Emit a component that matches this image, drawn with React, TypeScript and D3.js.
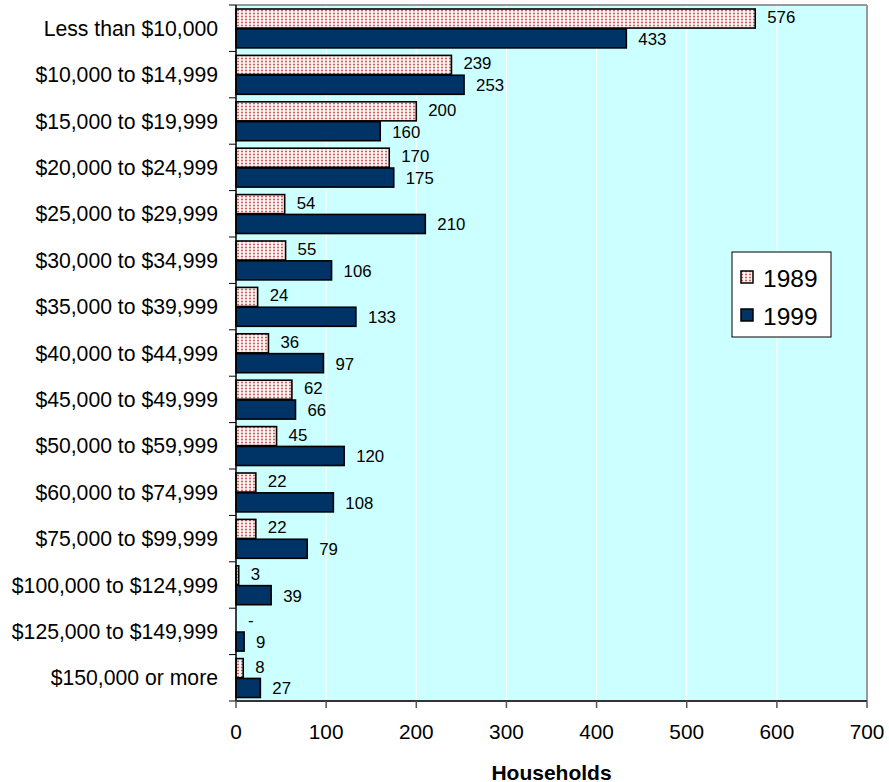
import React from "react";
import * as d3 from "d3";

const categories = [
  "Less than $10,000",
  "$10,000 to $14,999",
  "$15,000 to $19,999",
  "$20,000 to $24,999",
  "$25,000 to $29,999",
  "$30,000 to $34,999",
  "$35,000 to $39,999",
  "$40,000 to $44,999",
  "$45,000 to $49,999",
  "$50,000 to $59,999",
  "$60,000 to $74,999",
  "$75,000 to $99,999",
  "$100,000 to $124,999",
  "$125,000 to $149,999",
  "$150,000 or more",
];
const values1989 = [576, 239, 200, 170, 54, 55, 24, 36, 62, 45, 22, 22, 3, 0, 8];
const values1999 = [433, 253, 160, 175, 210, 106, 133, 97, 66, 120, 108, 79, 39, 9, 27];
const seriesNames = ["1989", "1999"];
const xTicks = [0, 100, 200, 300, 400, 500, 600, 700];
const xTitle = "Households";

const W = 889;
const H = 782;
const left = 236;
const right = 867;
const top = 5;
const bottom = 701;
const font = "Arial, 'Liberation Sans', sans-serif";
const blue = "#003366";
const bg = "#CCFFFF";

export default function App() {
  const x = d3.scaleLinear().domain([0, 700]).range([left, right]);
  const y = d3.scaleBand<string>().domain(categories).range([top, bottom]);
  const inner = d3
    .scaleBand<string>()
    .domain(seriesNames)
    .range([4, y.bandwidth() - 3.5])
    .paddingInner(0.04);
  const series = [values1989, values1999];
  const fills = ["url(#dots)", blue];

  return (
    <svg
      width={W}
      height={H}
      style={{ position: "absolute", left: 0, top: 0, display: "block" }}
      fontFamily={font}
    >
      <defs>
        <pattern id="dots" width={4} height={3} patternUnits="userSpaceOnUse">
          <rect width={4} height={3} fill="#fff4f4" />
          <rect x={1} y={0.5} width={2} height={2} fill="#e8a0a0" />
          <rect x={1.5} y={1} width={1} height={1} fill="#a82020" />
        </pattern>
      </defs>
      <rect x={left} y={top} width={right - left} height={bottom - top} fill={bg} />
      {xTicks.slice(1, -1).map((t) => (
        <line key={t} x1={x(t)} x2={x(t)} y1={top} y2={bottom} stroke="#ffffff" strokeWidth={1} />
      ))}
      {/* top & right border */}
      <line x1={left} x2={right} y1={top} y2={top} stroke="#999999" strokeWidth={2} />
      <line x1={right} x2={right} y1={top} y2={bottom} stroke="#999999" strokeWidth={2} />

      {categories.map((c, i) => (
        <g key={c}>
          {series.map((vals, s) => {
            const v = vals[i];
            const by = (y(c) as number) + (inner(seriesNames[s]) as number);
            const bh = inner.bandwidth();
            return (
              <g key={s}>
                {v > 0 && (
                  <rect
                    x={x(0)}
                    y={by}
                    width={x(v) - x(0)}
                    height={bh}
                    fill={fills[s]}
                    stroke="#000000"
                    strokeWidth={1.6}
                  />
                )}
                <text
                  x={x(v) + 12}
                  y={by + bh / 2 - (s === 0 ? 1 : -1)}
                  dominantBaseline="central"
                  fontSize={16.8}
                  fill="#000"
                >
                  {v === 0 ? "-" : v}
                </text>
              </g>
            );
          })}
          <text
            x={218}
            y={(y(c) as number) + y.bandwidth() / 2}
            textAnchor="end"
            dominantBaseline="central"
            fontSize={21.2}
            fill="#000"
          >
            {c}
          </text>
        </g>
      ))}

      {/* category ticks */}
      {categories.map((c, i) => (
        <line
          key={"t" + i}
          x1={229}
          x2={left}
          y1={(y(c) as number)}
          y2={(y(c) as number)}
          stroke="#000"
          strokeWidth={1}
        />
      ))}
      <line x1={229} x2={left} y1={bottom} y2={bottom} stroke="#000" strokeWidth={1} />

      {/* axes */}
      <line x1={left} x2={left} y1={top} y2={bottom} stroke="#000" strokeWidth={1.5} />
      <line x1={left} x2={right} y1={bottom} y2={bottom} stroke="#333" strokeWidth={2} />
      {xTicks.map((t) => (
        <g key={"x" + t}>
          <line x1={x(t)} x2={x(t)} y1={bottom} y2={bottom + 7} stroke="#555" strokeWidth={1.5} />
          <text
            x={x(t)}
            y={731}
            textAnchor="middle"
            dominantBaseline="central"
            fontSize={20.8}
            fill="#000"
          >
            {t}
          </text>
        </g>
      ))}
      <text
        x={(left + right) / 2}
        y={772}
        textAnchor="middle"
        dominantBaseline="central"
        fontSize={21}
        fontWeight="bold"
        fill="#000"
      >
        {xTitle}
      </text>

      {/* legend */}
      <rect x={732} y={252} width={99} height={85} fill="#ffffff" stroke="#000" strokeWidth={1} />
      {seriesNames.map((n, s) => (
        <g key={n}>
          <rect
            x={741}
            y={271 + s * 38}
            width={12}
            height={12}
            fill={fills[s]}
            stroke="#000"
            strokeWidth={1.5}
          />
          <text
            x={763}
            y={278 + s * 38}
            dominantBaseline="central"
            fontSize={24.5}
            fill="#000"
          >
            {n}
          </text>
        </g>
      ))}
    </svg>
  );
}
